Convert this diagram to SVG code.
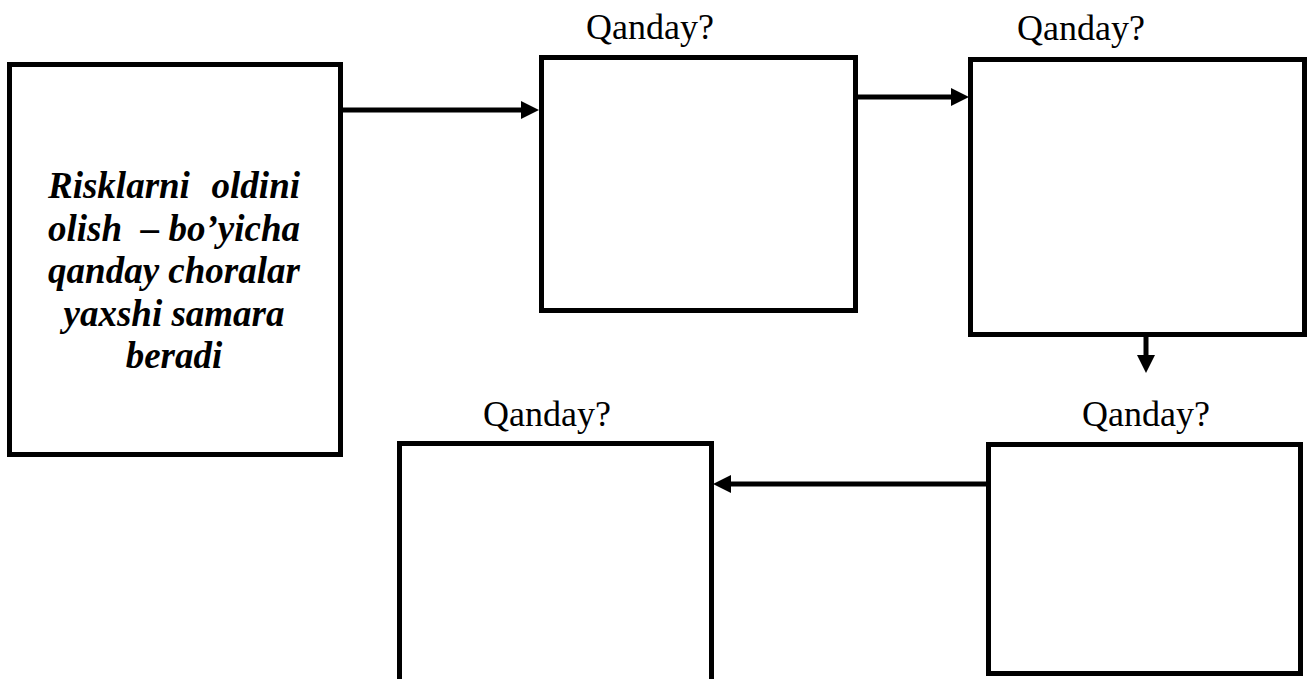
<svg xmlns="http://www.w3.org/2000/svg" width="1312" height="679" viewBox="0 0 1312 679">
  <style>
    .box { fill: #ffffff; stroke: #000000; stroke-width: 5; }
    .link { fill: none; stroke: #000000; stroke-width: 5; }
    .label { font-family: "Liberation Serif", "Times New Roman", serif; font-size: 36px; fill: #000000; }
    .main { font-family: "Liberation Serif", "Times New Roman", serif; font-size: 37px; font-weight: bold; font-style: italic; fill: #000000; }
  </style>
  <defs>
    <marker id="head" markerUnits="userSpaceOnUse" markerWidth="18" markerHeight="18" refX="0" refY="9" orient="auto">
      <path d="M0,0 L18,9 L0,18 Z" fill="#000000"/>
    </marker>
  </defs>

  <rect x="0" y="0" width="1312" height="679" fill="#ffffff"/>

  <!-- starting question -->
  <g id="start">
    <rect class="box" x="9.5" y="64.5" width="331" height="390"/>
    <text class="main" x="48" y="198">Risklarni</text>
    <text class="main" x="300" y="198" text-anchor="end">oldini</text>
    <text class="main" x="48" y="240.5">olish</text>
    <text class="main" x="300" y="240.5" text-anchor="end">– bo’yicha</text>
    <text class="main" x="174" y="283" text-anchor="middle">qanday choralar</text>
    <text class="main" x="174" y="325.5" text-anchor="middle">yaxshi samara</text>
    <text class="main" x="174" y="368" text-anchor="middle">beradi</text>
  </g>

  <!-- step 1 -->
  <g id="step1">
    <text class="label" x="586" y="39">Qanday?</text>
    <rect class="box" x="541.5" y="57.5" width="314" height="253"/>
  </g>

  <!-- step 2 -->
  <g id="step2">
    <text class="label" x="1017" y="40">Qanday?</text>
    <rect class="box" x="970.5" y="59.5" width="334" height="275"/>
  </g>

  <!-- step 3 -->
  <g id="step3">
    <text class="label" x="1082" y="426">Qanday?</text>
    <rect class="box" x="988.5" y="444.5" width="312" height="229"/>
  </g>

  <!-- step 4 -->
  <g id="step4">
    <text class="label" x="483" y="426">Qanday?</text>
    <rect class="box" x="399.5" y="443.5" width="312" height="250"/>
  </g>

  <!-- connectors -->
  <g id="connectors">
    <line class="link" x1="343" y1="110" x2="521" y2="110" marker-end="url(#head)"/>
    <line class="link" x1="858" y1="97" x2="951" y2="97" marker-end="url(#head)"/>
    <line class="link" x1="1146" y1="337" x2="1146" y2="355" marker-end="url(#head)"/>
    <line class="link" x1="986" y1="484" x2="731" y2="484" marker-end="url(#head)"/>
  </g>
</svg>
